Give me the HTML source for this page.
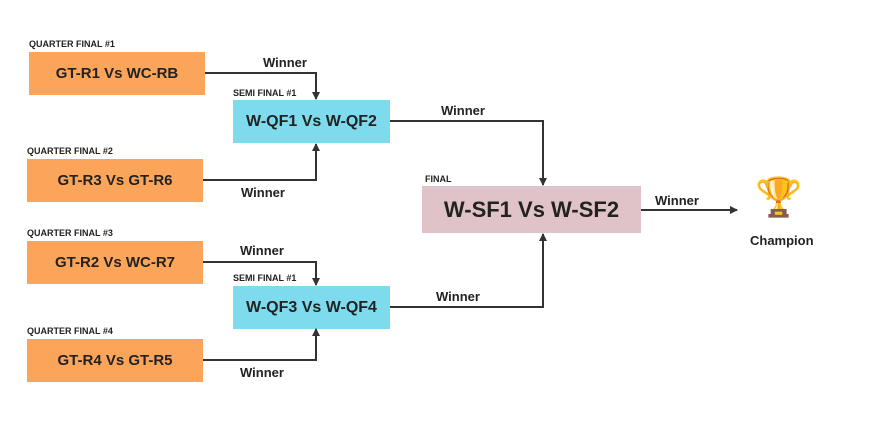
<!DOCTYPE html>
<html><head><style>
body{margin:0;background:#fff;width:892px;height:424px;overflow:hidden;font-family:"Liberation Sans",sans-serif}
.b{position:absolute;display:flex;align-items:center;justify-content:center;font-weight:bold;color:#222}
.o{background:#fba55a;font-size:15px;width:176px;height:43px}
.c{background:#7ddbed;font-size:16px;width:157px;height:43px}
.l{position:absolute;font-size:9px;font-weight:bold;color:#222}
.w{position:absolute;font-size:13px;font-weight:bold;color:#222}
</style></head><body>
<div class="l" style="left:29px;top:39px">QUARTER FINAL #1</div>
<div class="b o" style="left:29px;top:52px">GT-R1 Vs WC-RB</div>
<div class="l" style="left:27px;top:146px">QUARTER FINAL #2</div>
<div class="b o" style="left:27px;top:159px">GT-R3 Vs GT-R6</div>
<div class="l" style="left:27px;top:228px">QUARTER FINAL #3</div>
<div class="b o" style="left:27px;top:241px">GT-R2 Vs WC-R7</div>
<div class="l" style="left:27px;top:326px">QUARTER FINAL #4</div>
<div class="b o" style="left:27px;top:339px">GT-R4 Vs GT-R5</div>
<div class="l" style="left:233px;top:88px">SEMI FINAL #1</div>
<div class="b c" style="left:233px;top:100px">W-QF1 Vs W-QF2</div>
<div class="l" style="left:233px;top:273px">SEMI FINAL #1</div>
<div class="b c" style="left:233px;top:286px">W-QF3 Vs W-QF4</div>
<div class="l" style="left:425px;top:174px">FINAL</div>
<div class="b" style="left:422px;top:186px;width:219px;height:47px;background:#e0c3c9;font-size:22px">W-SF1 Vs W-SF2</div>
<div class="w" style="left:263px;top:55px">Winner</div>
<div class="w" style="left:241px;top:185px">Winner</div>
<div class="w" style="left:441px;top:103px">Winner</div>
<div class="w" style="left:240px;top:243px">Winner</div>
<div class="w" style="left:436px;top:289px">Winner</div>
<div class="w" style="left:240px;top:365px">Winner</div>
<div class="w" style="left:655px;top:193px">Winner</div>
<div style="position:absolute;left:755px;top:176px;font-size:38px;line-height:44px">🏆</div>
<div class="w" style="left:750px;top:233px">Champion</div>
<svg width="892" height="424" style="position:absolute;left:0;top:0">
<defs><marker id="a" markerWidth="8" markerHeight="8" refX="7" refY="4" orient="auto" markerUnits="userSpaceOnUse"><path d="M0,0L8,4L0,8z" fill="#333"/></marker></defs>
<g fill="none" stroke="#333" stroke-width="2">
<path d="M205,73H316V99" marker-end="url(#a)"/>
<path d="M203,180H316V144" marker-end="url(#a)"/>
<path d="M203,262H316V285" marker-end="url(#a)"/>
<path d="M203,360H316V329" marker-end="url(#a)"/>
<path d="M390,121H543V185" marker-end="url(#a)"/>
<path d="M390,307H543V234" marker-end="url(#a)"/>
<path d="M641,210H737" marker-end="url(#a)"/>
</g></svg>
</body></html>
